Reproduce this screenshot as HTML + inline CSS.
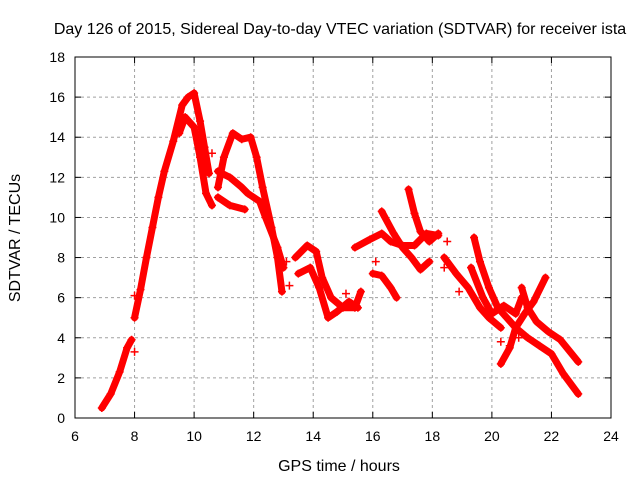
<!DOCTYPE html>
<html><head><meta charset="utf-8"><style>
body{margin:0;background:#fff}
svg text{font-family:"Liberation Sans",sans-serif;font-size:14px;fill:#000}
svg text.big{font-size:16px}
</style></head><body>
<svg id="chart" width="640" height="480">
<rect width="640" height="480" fill="#fff"/>
<text class="big" x="340" y="34" text-anchor="middle">Day 126 of 2015, Sidereal Day-to-day VTEC variation (SDTVAR) for receiver ista</text>
<text class="big" x="339" y="471" text-anchor="middle">GPS time / hours</text>
<text class="big" transform="translate(20,238) rotate(-90)" text-anchor="middle">SDTVAR / TECUs</text>
<g id="grid"></g><g id="axes"></g><g id="marks"></g>
</svg>
<script>
const xTicks=[6,8,10,12,14,16,18,20,22,24];
const yTicks=[0,2,4,6,8,10,12,14,16,18];
const trackA=[[6.9,0.5],[7.2,1.2],[7.5,2.3],[7.75,3.5],[7.9,3.9]];
const trackB=[[8.0,5.0],[8.2,6.4],[8.4,8],[8.6,9.5],[8.8,11],[9.0,12.3],[9.3,13.8],[9.6,15.6],[9.8,16],[10.0,16.2],[10.2,14.8],[10.35,13.5],[10.5,12.2]];
const trackC=[[9.5,14.2],[9.7,15],[10.0,14.5],[10.2,13],[10.4,11.2],[10.6,10.6]];
const trackD=[[10.8,11.5],[11.0,13],[11.3,14.2],[11.6,13.9],[11.9,14],[12.1,13],[12.3,11.5],[12.6,9.5],[12.8,8],[12.95,6.3]];
const trackE=[[10.8,12.3],[11.2,12],[11.6,11.5],[11.8,11.2],[12.2,10.8],[12.4,10],[12.8,8.5],[13,7.5]];
const trackF=[[10.8,11],[11.2,10.6],[11.7,10.4]];
const trackG=[[13.4,8],[13.8,8.6],[14.1,8.3],[14.3,7],[14.6,6],[15,5.5],[15.4,5.5],[15.6,6.3]];
const trackH=[[13.5,7.2],[13.9,7.5],[14.2,6.5],[14.5,5],[14.8,5.3],[15.2,5.8],[15.5,5.5]];
const trackI=[[15.4,8.5],[15.9,8.9],[16.3,9.2],[16.6,8.8],[17,8.6],[17.4,8.6],[17.8,9.2],[18.2,9.1]];
const trackJ=[[16.3,10.3],[16.7,9.2],[17,8.5],[17.3,8],[17.6,7.4],[17.9,7.8]];
const trackK=[[17.2,11.4],[17.4,10.2],[17.6,9.3],[17.9,8.8],[18.2,9.2]];
const trackL=[[16.0,7.2],[16.3,7.1],[16.6,6.5],[16.8,6]];
const trackM=[[18.4,8],[18.8,7.2],[19.2,6.5],[19.6,5.5],[19.9,5],[20.3,4.5]];
const trackN=[[19.4,9],[19.6,7.8],[19.9,6.5],[20.2,5.5],[20.5,5.0],[20.8,4.5],[21.2,4],[21.6,3.6],[22,3.2],[22.4,2.2],[22.9,1.2]];
const trackO=[[20.3,2.7],[20.6,3.5],[20.8,4.5],[21.1,5.2],[21.4,5.8],[21.8,7]];
const trackP=[[21,6.5],[21.2,5.5],[21.5,4.8],[21.9,4.3],[22.3,3.9],[22.9,2.8]];
const trackQ=[[19.3,7.5],[19.7,6],[20.0,5.2],[20.4,5.6],[20.8,5.2],[21.0,6.0]];
const strays=[[8.0,6.1],[8.0,3.3],[10.6,13.2],[13.2,6.6],[13.1,7.8],[15.1,6.2],[16.1,7.8],[18.5,8.8],[18.4,7.5],[18.9,6.3],[20.6,3.6],[20.9,4.0],[20.3,3.8]];
const tracks=[trackA,trackB,trackC,trackD,trackE,trackF,trackG,trackH,trackI,trackJ,trackK,trackL,trackM,trackN,trackO,trackP,trackQ];
const NS="http://www.w3.org/2000/svg";
const X0=75,X1=611,Y0=418,Y1=57;
function sx(v){return X0+(v-6)/18*(X1-X0);}
function sy(v){return Y0-v/18*(Y0-Y1);}
function mk(tag,attrs,parent){const e=document.createElementNS(NS,tag);for(const k in attrs)e.setAttribute(k,attrs[k]);parent.appendChild(e);return e;}
const grid=document.getElementById('grid'),axes=document.getElementById('axes'),marks=document.getElementById('marks');
xTicks.forEach(t=>{
 if(t>6&&t<24){const g=mk('line',{x1:sx(t),x2:sx(t),y1:Y1,y2:Y0,stroke:'#a0a0a0','stroke-dasharray':'3,3'},grid);
 
 }
 mk('line',{x1:sx(t),x2:sx(t),y1:Y0,y2:Y0-6,stroke:'#000'},axes);
 mk('line',{x1:sx(t),x2:sx(t),y1:Y1,y2:Y1+6,stroke:'#000'},axes);
 const l=mk('text',{x:sx(t),y:Y0+23,'text-anchor':'middle'},axes);l.textContent=t;
 
 
});
yTicks.forEach(t=>{
 if(t>0&&t<18){const g=mk('line',{x1:X0,x2:X1,y1:sy(t),y2:sy(t),stroke:'#a0a0a0','stroke-dasharray':'3,3'},grid);
 
 }
 mk('line',{x1:X0,x2:X0+6,y1:sy(t),y2:sy(t),stroke:'#000'},axes);
 mk('line',{x1:X1,x2:X1-6,y1:sy(t),y2:sy(t),stroke:'#000'},axes);
 const l=mk('text',{x:X0-10,y:sy(t)+5,'text-anchor':'end'},axes);l.textContent=t;
 
 
});
const frame=mk('rect',{x:X0,y:Y1,width:X1-X0,height:Y0-Y1,fill:'none',stroke:'#000'},axes);


function plus(p,parent){const x=sx(p[0]),y=sy(p[1]);
 mk('path',{d:`M${x-4},${y}H${x+4}M${x},${y-4}V${y+4}`,stroke:'#f00','stroke-width':1.5},parent);}
tracks.forEach(tr=>{
 const g=mk('g',{},marks);
 
 
 mk('polyline',{points:tr.map(p=>sx(p[0])+','+sy(p[1])).join(' '),fill:'none',stroke:'#f00','stroke-width':7,'stroke-linejoin':'round','stroke-linecap':'round'},g);
 tr.forEach(p=>plus(p,g));
});
const sg=mk('g',{},marks);


strays.forEach(p=>plus(p,sg));
</script>
</body></html>
